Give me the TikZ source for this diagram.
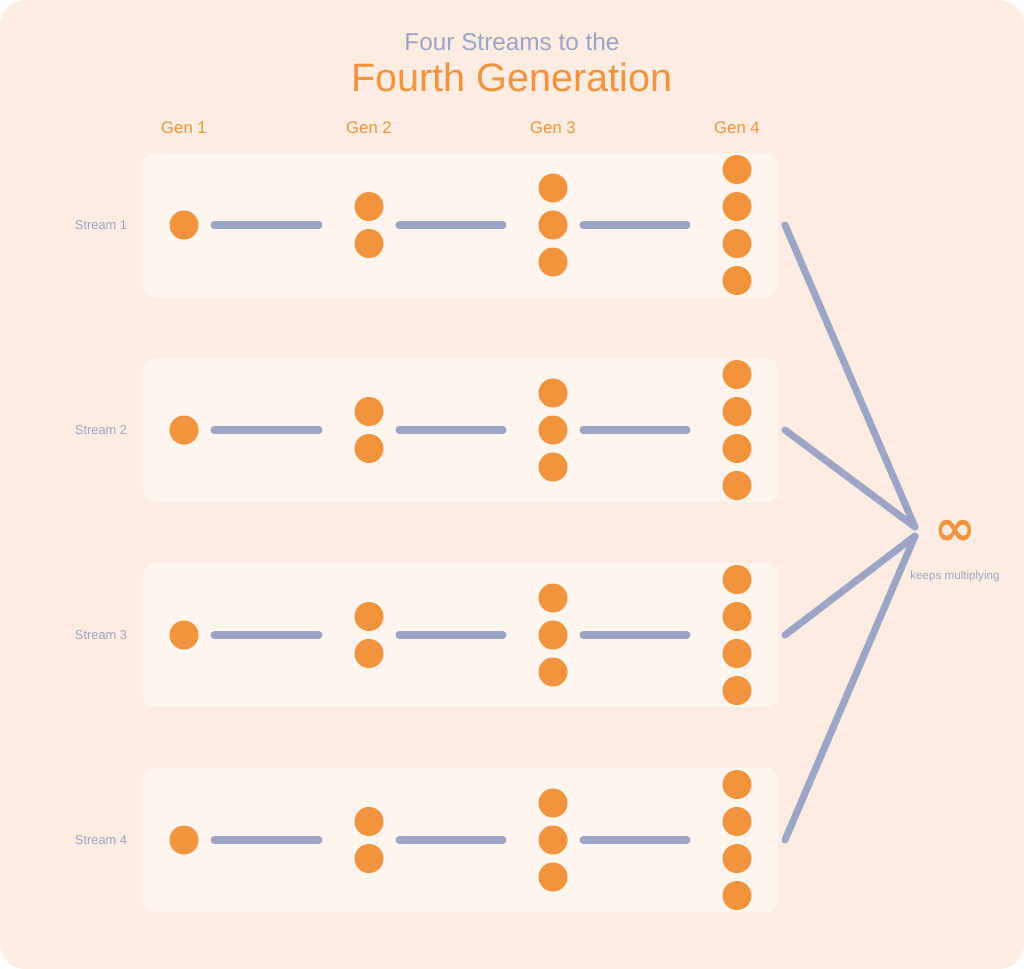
\documentclass[tikz,border=0pt]{standalone}
\usepackage{fontspec}
\setmainfont{Liberation Sans}
\newfontfamily\symfont{DejaVu Sans}
\usetikzlibrary{positioning}

\definecolor{peach}{HTML}{FCECE1}
\definecolor{panel}{HTML}{FEF5EF}
\definecolor{dotorange}{HTML}{F2943E}
\definecolor{lavender}{HTML}{9CA5C6}

\tikzset{
  dot/.style={circle,fill=dotorange,inner sep=0pt,minimum size=0.754cm},
  link/.style={line width=5.2pt,lavender,line cap=round},
  genlbl/.style={text=dotorange,font=\fontsize{12.4}{14}\selectfont},
  streamlbl/.style={text=lavender,font=\fontsize{9.5}{11}\selectfont}
}

\begin{document}
\begin{tikzpicture}[x=0.026cm,y=-0.026cm]
    \useasboundingbox (0,0) rectangle (1024,969);
    \fill[peach,rounded corners=0.65cm] (0,0) rectangle (1024,969);

    \node[text=lavender,font=\fontsize{18}{20}\selectfont] (title1) at (512,42) {Four Streams to the};
    \node[text=dotorange,font=\fontsize{29.3}{32}\selectfont] (title2) at (512,77) {Fourth Generation};

    \foreach \g/\gx in {1/184,2/369,3/553,4/737}
        \node[genlbl] (gen\g) at (\gx,128) {Gen \g};

    \coordinate (hubA) at (915,527);
    \coordinate (hubB) at (915,536);

    \foreach \s in {1,...,4} {
        \pgfmathsetmacro\yc{225+205*(\s-1)}
        \fill[panel,rounded corners=0.3cm] (143,\yc-72) rectangle (778,\yc+72);
        \node[streamlbl] (lbl\s) at (101,\yc) {Stream \s};
        % dots per generation
        \node[dot] (d\s-1-1) at (184,\yc) {};
        \foreach \k in {1,2}
            \node[dot] (d\s-2-\k) at (369,\yc+37*\k-55.5) {};
        \foreach \k in {1,2,3}
            \node[dot] (d\s-3-\k) at (553,\yc+37*\k-74) {};
        \foreach \k in {1,...,4}
            \node[dot] (d\s-4-\k) at (737,\yc+37*\k-92.5) {};
        % links between generations
        \foreach \g/\ga/\gb in {1/214/319,2/399/503,3/583/687} {
            \coordinate (a\s-\g) at (\ga,\yc);
            \coordinate (b\s-\g) at (\gb,\yc);
            \draw[link] (a\s-\g) -- (b\s-\g);
        }
        \coordinate (out\s) at (785,\yc);
    }

    \draw[link] (out1) -- (hubA);
    \draw[link] (out2) -- (hubA);
    \draw[link] (out3) -- (hubB);
    \draw[link] (out4) -- (hubB);

    \node[text=dotorange,font=\symfont\bfseries\fontsize{37}{38}\selectfont] (inf) at (955,533) {∞};
    \node[text=lavender,font=\fontsize{8.6}{10}\selectfont] (keeps) at (955,576) {keeps multiplying};
\end{tikzpicture}
\end{document}
